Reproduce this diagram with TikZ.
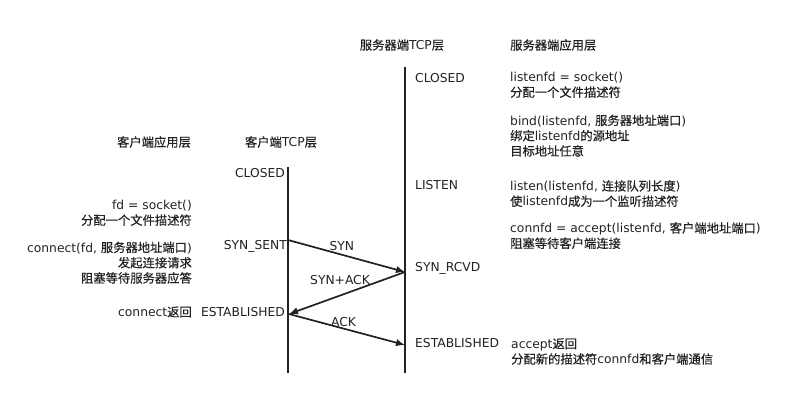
\documentclass[tikz,border=0pt]{standalone}
\usepackage{fontspec}
\setmainfont{DejaVu Sans}
\newfontfamily\cjk[FakeBold=0.5]{Noto Sans CJK SC}
\usetikzlibrary{arrows.meta,positioning}
\newcommand{\zh}[1]{{\cjk #1}}
\definecolor{SeqInk}{HTML}{222222}
\tikzset{
  lifeline/.style={draw=SeqInk, line width=2.3pt},
  msg/.style={-{Latex[length=9pt,width=7.5pt]}, draw=SeqInk, line width=1.7pt},
  txt/.style={text=SeqInk, font=\fontsize{12.3}{15.3}\selectfont, inner sep=0pt},
  layer/.style={txt},
  statel/.style={txt, anchor=east},
  stater/.style={txt, anchor=west},
  callr/.style={txt, align=left, anchor=north west},
  calll/.style={txt, align=right, anchor=north east},
  msglabel/.style={txt, inner sep=0.5pt}
}
\begin{document}
\begin{tikzpicture}[x=1pt, y=-1pt]
  \useasboundingbox (0,0) rectangle (799,401);
  % lifelines
  \coordinate (ctop) at (288,167);
  \coordinate (cbot) at (288,373);
  \coordinate (stop) at (405,67);
  \coordinate (sbot) at (405,373);
  \draw[lifeline] (ctop) -- (cbot);
  \draw[lifeline] (stop) -- (sbot);
  % headers
  \node[layer] (capp) at (154,142) {\zh{客户端应用层}};
  \node[layer] (ctcp) at (281,142) {\zh{客户端}TCP\zh{层}};
  \node[layer] (stcp) at (402,45) {\zh{服务器端}TCP\zh{层}};
  \node[layer, anchor=west] (sapp) at (510,45) {\zh{服务器端应用层}};
  % server side
  \node[stater] (sclosed) at (415,78) {CLOSED};
  \node[callr] (ssocket) at (510,72) {listenfd = socket()\\\zh{分配一个文件描述符}};
  \node[callr] (sbind) at (510,114.5) {bind(listenfd, \zh{服务器地址端口})\\\zh{绑定}listenfd\zh{的源地址}\\\zh{目标地址任意}};
  \node[stater] (slisten) at (415,185) {LISTEN};
  \node[callr] (slistencall) at (510,180) {listen(listenfd, \zh{连接队列长度})\\\zh{使}listenfd\zh{成为一个监听描述符}};
  \node[callr] (saccept) at (510,222) {connfd = accept(listenfd, \zh{客户端地址端口})\\\zh{阻塞等待客户端连接}};
  \node[stater] (srcvd) at (415,268) {SYN\_RCVD};
  \node[stater] (sestab) at (415,343) {ESTABLISHED};
  \node[callr] (sreturn) at (511,338) {accept\zh{返回}\\\zh{分配新的描述符}connfd\zh{和客户端通信}};
  % client side
  \node[statel] (cclosed) at (285,173) {CLOSED};
  \node[calll] (csocket) at (192,200) {fd = socket()\\\zh{分配一个文件描述符}};
  \node[statel] (csent) at (287,246) {SYN\_SENT};
  \node[calll] (cconnect) at (192,241.5) {connect(fd, \zh{服务器地址端口})\\\zh{发起连接请求}\\\zh{阻塞等待服务器应答}};
  \node[statel] (cestab) at (285,312) {ESTABLISHED};
  \node[statel] (creturn) at (192,312) {connect\zh{返回}};
  % handshake
  \coordinate (c1) at (288,240);
  \coordinate (s1) at (405,272);
  \coordinate (c2) at (289,314);
  \coordinate (s2) at (405,345);
  \draw[msg] (c1) -- node[msglabel, pos=0.46, above=3pt] (syn) {SYN} (s1);
  \draw[msg] (s1) -- node[msglabel, pos=0.56, above=9pt] (synack) {SYN+ACK} (c2);
  \draw[msg] (c2) -- node[msglabel, pos=0.47, above=0.5pt] (ack) {ACK} (s2);
\end{tikzpicture}
\end{document}
